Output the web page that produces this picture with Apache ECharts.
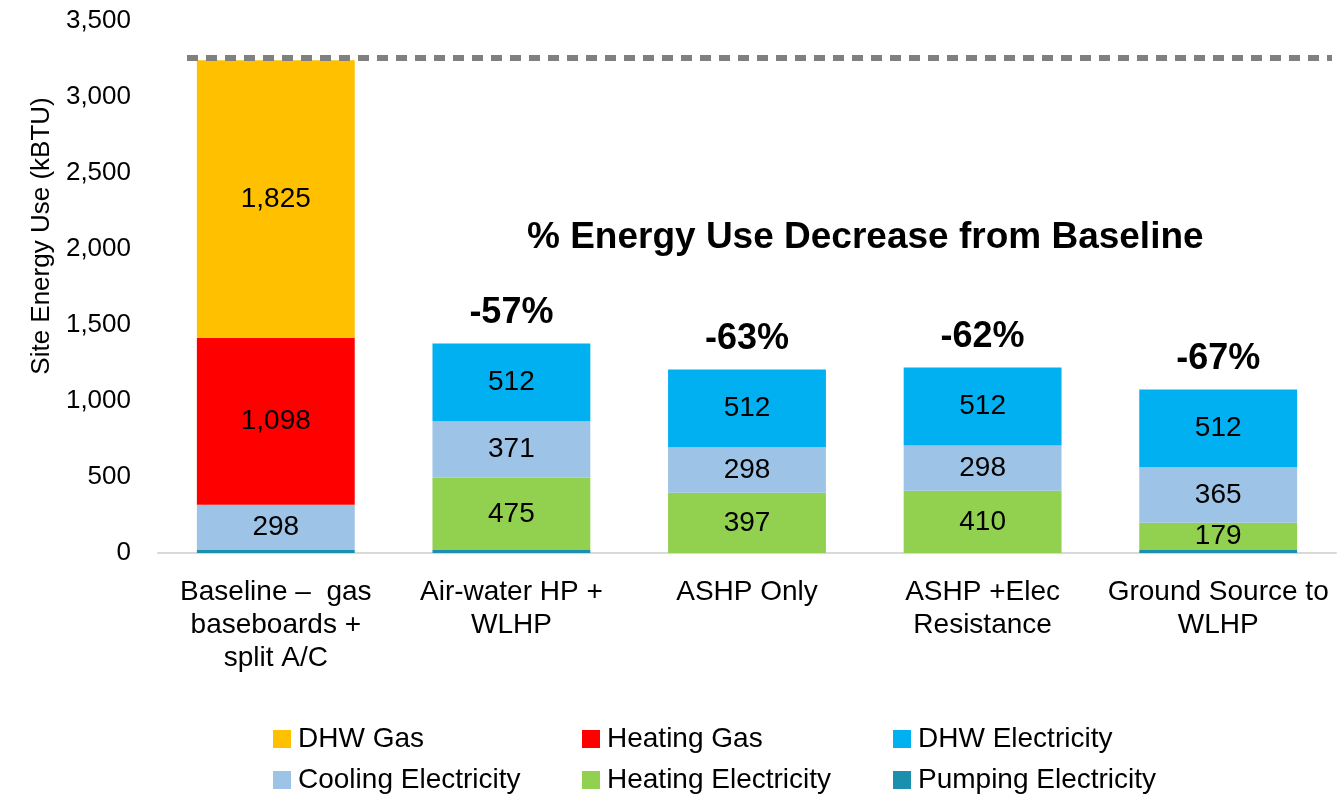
<!DOCTYPE html>
<html>
<head>
<meta charset="utf-8">
<script src="https://cdn.jsdelivr.net/npm/echarts@6/dist/echarts.min.js"></script>
<style>
  html, body { margin: 0; padding: 0; background: #fff; }
  #chart { width: 1337px; height: 796px; }
</style>
</head>
<body>
<div id="chart"></div>
<script>
const categories = ['Baseline –  gas\nbaseboards +\nsplit A/C', 'Air-water HP +\nWLHP', 'ASHP Only', 'ASHP +Elec\nResistance', 'Ground Source to\nWLHP']
const pumpingElec = [20, 20, null, null, 20]
const heatingElec = [null, 475, 397, 410, 179]
const coolingElec = [298, 371, 298, 298, 365]
const heatingGas = [1098, null, null, null, null]
const dhwGas = [1825, null, null, null, null]
const dhwElec = [null, 512, 512, 512, 512]
const pctDecrease = ['', '-57%', '-63%', '-62%', '-67%']
const baselineLine = 3255
const yTicks = { min: 0, max: 3500, interval: 500 }

const FONT = 'Liberation Sans'
const chart = echarts.init(document.getElementById('chart'))

function barSeries(name, data, color, showLabel) {
  return {
    name: name,
    type: 'bar',
    stack: 'total',
    barWidth: '67%',
    data: data,
    itemStyle: { color: color },
    label: {
      show: showLabel,
      position: 'inside',
      color: '#000',
      fontFamily: FONT,
      fontSize: 28,
      formatter: p => p.value == null ? '' : Number(p.value).toLocaleString('en-US')
    }
  }
}

// legend laid out as a 3 x 2 grid, one small legend per item
const legendItems = [
  ['DHW Gas', 273, 725], ['Heating Gas', 582, 725], ['DHW Electricity', 893, 725],
  ['Cooling Electricity', 273, 766], ['Heating Electricity', 582, 766], ['Pumping Electricity', 893, 766]
]
const legends = legendItems.map(([name, x, y]) => ({
  data: [name],
  left: x,
  top: y,
  padding: 0,
  itemWidth: 18,
  itemHeight: 18,
  itemGap: 0,
  icon: 'rect',
  textStyle: { fontFamily: FONT, fontSize: 28, color: '#000', padding: [0, 0, 0, 2] }
}))

chart.setOption({
  animation: false,
  title: {
    text: '% Energy Use Decrease from Baseline',
    left: 527,
    top: 219,
    padding: 0,
    textStyle: { fontFamily: FONT, fontSize: 37, fontWeight: 'bold', color: '#000' }
  },
  grid: { left: 158, right: 1, top: 21, bottom: 243 },
  legend: legends,
  xAxis: {
    type: 'category',
    data: categories,
    axisLine: { lineStyle: { color: '#d9d9d9', width: 2 } },
    axisTick: { show: false },
    axisLabel: { color: '#000', fontFamily: FONT, fontSize: 28, lineHeight: 33, margin: 23, interval: 0 }
  },
  yAxis: {
    type: 'value',
    min: yTicks.min,
    max: yTicks.max,
    interval: yTicks.interval,
    name: 'Site Energy Use (kBTU)',
    nameLocation: 'middle',
    nameGap: 103,
    nameTextStyle: { color: '#000', fontFamily: FONT, fontSize: 26, padding: [0, 0, 0, 102] },
    axisLine: { show: false },
    axisTick: { show: false },
    splitLine: { show: false },
    axisLabel: {
      color: '#000', fontFamily: FONT, fontSize: 26, margin: 27,
      formatter: v => v.toLocaleString('en-US')
    }
  },
  series: [
    barSeries('Pumping Electricity', pumpingElec, '#1B8FAE', false),
    barSeries('Heating Electricity', heatingElec, '#92D050', true),
    barSeries('Cooling Electricity', coolingElec, '#9DC3E6', true),
    barSeries('Heating Gas', heatingGas, '#FF0000', true),
    barSeries('DHW Gas', dhwGas, '#FFC000', true),
    Object.assign(barSeries('DHW Electricity', dhwElec, '#00B0F0', true), {
      markLine: {
        symbol: 'none',
        silent: true,
        label: { show: false },
        lineStyle: { color: '#808080', width: 6, type: [11, 8] },
        data: [[{ x: 187, yAxis: baselineLine }, { x: 1332, yAxis: baselineLine }]]
      }
    }),
    {
      name: 'pct',
      type: 'bar',
      stack: 'total',
      barWidth: '67%',
      data: pctDecrease.map(() => 0),
      itemStyle: { color: 'transparent' },
      label: {
        show: true,
        position: 'top',
        distance: 12,
        color: '#000',
        fontFamily: FONT,
        fontSize: 36,
        fontWeight: 'bold',
        formatter: p => pctDecrease[p.dataIndex]
      }
    }
  ]
})
</script>
</body>
</html>
